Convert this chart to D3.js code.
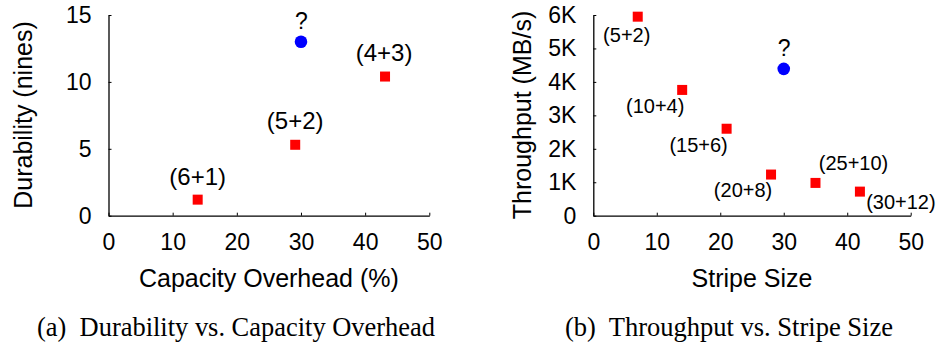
<!DOCTYPE html>
<html>
<head>
<meta charset="utf-8">
<script src="https://cdn.jsdelivr.net/npm/d3@7"></script>
<style>
  body { margin: 0; background: #fff; }
  svg { display: block; }
  text { font-family: "Liberation Sans", Arial, sans-serif; fill: #000; }
  .caption { font-family: "Liberation Serif", "Times New Roman", serif; }
</style>
</head>
<body>
<div id="chart"></div>
<script>
// (a) durability vs capacity overhead
const durLabels = ["(6+1)", "(5+2)", "(4+3)"];
const durOverhead = [13.9, 29.1, 43.1];
const durNines = [1.2, 5.3, 10.4];
const durUnknown = {x: 30, y: 13.0, label: "?"};
const durXTicks = [0, 10, 20, 30, 40, 50];
const durYTicks = [0, 5, 10, 15];

// (b) throughput vs stripe size
const tpLabels = ["(5+2)", "(10+4)", "(15+6)", "(20+8)", "(25+10)", "(30+12)"];
const tpStripe = [7, 14, 21, 28, 35, 42];
const tpThroughput = [5950, 3760, 2600, 1230, 980, 720];
const tpUnknown = {x: 30, y: 4390, label: "?"};
const tpXTicks = [0, 10, 20, 30, 40, 50];
const tpYTicks = [0, 1000, 2000, 3000, 4000, 5000, 6000];
const tpYTickText = ["0", "1K", "2K", "3K", "4K", "5K", "6K"];

// label placement (pixels relative to the point)
const durLabelOffset = [[0, -15], [0, -16], [-1, -16]];
const tpLabelOffset = [[-11, 25], [-27, 23], [-28, 23], [-28, 22], [38, -13], [41, 17]];

const W = 938, H = 348;
const SQ = 10, DOT_R = 6.3;
const RED = "#ff0000", BLUE = "#0000ff";

let svg = d3.select("#chart").append("svg")
    .attr("width", W)
    .attr("height", H);

function drawPanel(opt) {
    let x = d3.scaleLinear().domain([0, 50]).range([opt.x0, opt.x1]);
    let y = d3.scaleLinear().domain(opt.yDomain).range([opt.yBottom, opt.yTop]);

    let xAxis = svg.append("g")
        .attr("transform", `translate(0, ${opt.yBottom})`)
        .call(d3.axisBottom(x).tickValues(opt.xTicks).tickSizeInner(-3).tickSizeOuter(0).tickPadding(18));
    let yAxis = svg.append("g")
        .attr("transform", `translate(${opt.x0}, 0)`)
        .call(d3.axisLeft(y).tickValues(opt.yTicks).tickSizeInner(-3).tickSizeOuter(0).tickPadding(17)
            .tickFormat((d, i) => opt.yTickText ? opt.yTickText[i] : d));
    [xAxis, yAxis].forEach(function(a) {
        a.select(".domain").attr("stroke", "#000").attr("stroke-width", 1.3);
        a.selectAll(".tick line").attr("stroke", "#000").attr("stroke-width", 1);
        a.selectAll(".tick text").style("font-size", "23px").attr("font-family", null).attr("fill", "#000");
    });

    // red squares
    svg.selectAll(null).data(opt.xs).enter()
        .append("rect")
        .attr("x", (d) => x(d) - SQ / 2)
        .attr("y", (d, i) => y(opt.ys[i]) - SQ / 2)
        .attr("width", SQ)
        .attr("height", SQ)
        .attr("fill", RED);
    svg.selectAll(null).data(opt.labels).enter()
        .append("text")
        .attr("x", (d, i) => x(opt.xs[i]) + opt.offsets[i][0])
        .attr("y", (d, i) => y(opt.ys[i]) + opt.offsets[i][1])
        .style("text-anchor", "middle")
        .style("font-size", opt.labelSize + "px")
        .text((d) => d);

    // the unknown point
    svg.append("circle")
        .attr("cx", x(opt.unknown.x))
        .attr("cy", y(opt.unknown.y))
        .attr("r", DOT_R)
        .attr("fill", BLUE);
    svg.append("text")
        .attr("x", x(opt.unknown.x) + 0.5)
        .attr("y", y(opt.unknown.y) - 13)
        .style("text-anchor", "middle")
        .style("font-size", "23px")
        .text(opt.unknown.label);

    // axis titles
    svg.append("text")
        .attr("x", (opt.x0 + opt.x1) / 2)
        .attr("y", 287)
        .style("text-anchor", "middle")
        .style("font-size", "25px")
        .text(opt.xTitle);
    svg.append("text")
        .attr("transform", `translate(${opt.yTitleX}, 115) rotate(-90)`)
        .style("text-anchor", "middle")
        .style("font-size", "25px")
        .text(opt.yTitle);

    svg.append("text")
        .attr("class", "caption")
        .attr("x", opt.capX)
        .attr("y", 336)
        .attr("textLength", opt.capW)
        .attr("lengthAdjust", "spacingAndGlyphs")
        .style("font-size", "26.5px")
        .style("white-space", "pre")
        .text(opt.caption);
}

drawPanel({
    x0: 108.5, x1: 429.3, yBottom: 215.7, yTop: 15,
    yDomain: [0, 15], xTicks: durXTicks, yTicks: durYTicks,
    xs: durOverhead, ys: durNines, labels: durLabels, offsets: durLabelOffset, labelSize: 24,
    unknown: durUnknown,
    xTitle: "Capacity Overhead (%)", yTitle: "Durability (nines)", yTitleX: 32,
    caption: "(a)  Durability vs. Capacity Overhead", capX: 37, capW: 398
});

drawPanel({
    x0: 593.3, x1: 910.7, yBottom: 215.7, yTop: 15,
    yDomain: [0, 6000], xTicks: tpXTicks, yTicks: tpYTicks, yTickText: tpYTickText,
    xs: tpStripe, ys: tpThroughput, labels: tpLabels, offsets: tpLabelOffset, labelSize: 20,
    unknown: tpUnknown,
    xTitle: "Stripe Size", yTitle: "Throughput (MB/s)", yTitleX: 531,
    caption: "(b)  Throughput vs. Stripe Size", capX: 565, capW: 328
});
</script>
</body>
</html>
